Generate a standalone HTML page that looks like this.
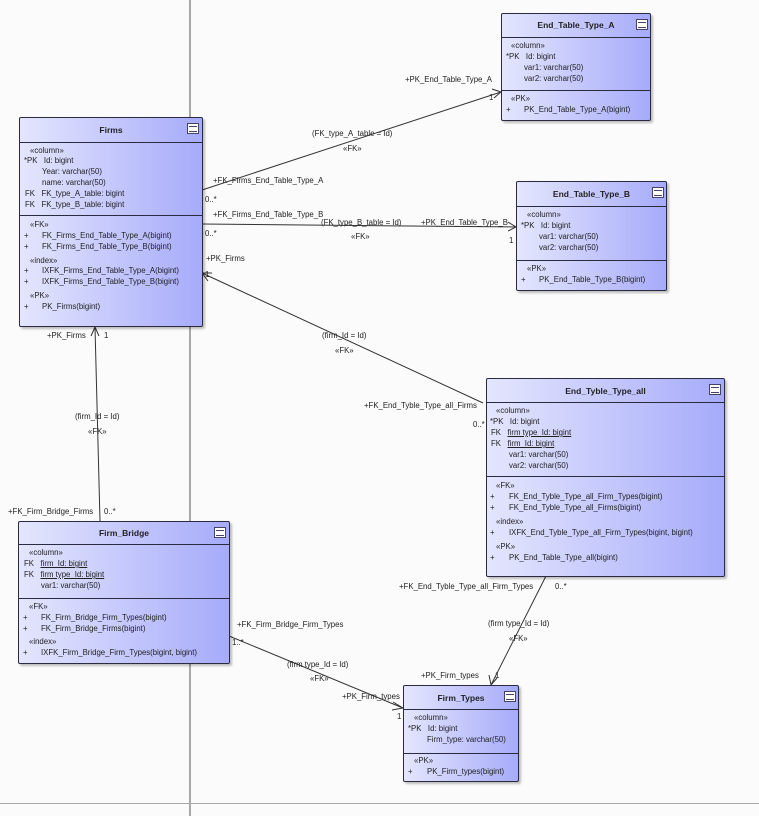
<!DOCTYPE html>
<html><head><meta charset="utf-8"><style>
body{margin:0;width:759px;height:816px;background:#fbfbfb;position:relative;overflow:hidden;font-family:"Liberation Sans",sans-serif;font-size:7.8px;color:#222}
.b{position:absolute;border:1px solid #2a2a40;background:linear-gradient(90deg,#e4e6fd,#a6abfa);box-shadow:2px 2px 2px rgba(0,0,0,.25);border-radius:2px;box-sizing:border-box}
.h{position:absolute;left:0;right:0;border-bottom:1px solid #2a2a40}
.d{position:absolute;left:0;right:0;border-top:1px solid #2a2a40}
.ti{position:absolute;left:0;right:0;text-align:center;font-weight:bold;font-size:8.5px}
.ic{position:absolute;width:10px;height:9px;border:1px solid #446;background:#fff}
.ic:after{content:"";position:absolute;left:1px;right:1px;top:2px;height:4px;border-top:1px solid #446;border-bottom:1px solid #446}
.t{position:absolute;white-space:nowrap;line-height:12px}
u{text-decoration:underline}
</style></head><body>
<div style="position:absolute;left:189px;top:0;width:2px;height:816px;background:#a8a8a8"></div>
<div style="position:absolute;left:0;top:803px;width:759px;height:1px;background:#a8a8a8"></div>
<svg width="759" height="816" style="position:absolute;left:0;top:0" fill="none" stroke="#333" stroke-width="1">
<line x1="202" y1="190" x2="501" y2="92"/><polyline points="492,89 501,92 494,98"/>
<line x1="202" y1="224" x2="516" y2="227"/><polyline points="508,222 516,227 508,231"/>
<line x1="483" y1="403" x2="202" y2="273"/><polyline points="208,281 202,273 212,273"/>
<line x1="100" y1="521" x2="95" y2="327"/><polyline points="91,336 95,327 99,336"/>
<line x1="229" y1="636" x2="403" y2="708"/><polyline points="393,702 403,708 392,710"/>
<line x1="546" y1="576" x2="491" y2="685"/><polyline points="489,675 491,685 497,678"/>
</svg>
<!-- Firms -->
<div class="b" style="left:19px;top:117px;width:184px;height:210px"><div class="h" style="top:0;height:24px"></div><div class="d" style="top:97px"></div><div class="ti" style="top:7px">Firms</div><div class="ic" style="left:167px;top:5px"></div></div>
<span class="t" style="left:30px;top:145px">«column»</span>
<span class="t" style="left:24px;top:155px">*PK&nbsp;&nbsp;&nbsp;Id: bigint</span>
<span class="t" style="left:42px;top:166px">Year: varchar(50)</span>
<span class="t" style="left:42px;top:177px">name: varchar(50)</span>
<span class="t" style="left:25px;top:188px">FK&nbsp;&nbsp;&nbsp;FK_type_A_table: bigint</span>
<span class="t" style="left:25px;top:199px">FK&nbsp;&nbsp;&nbsp;FK_type_B_table: bigint</span>
<span class="t" style="left:30px;top:219px">«FK»</span>
<span class="t" style="left:24px;top:230px">+</span><span class="t" style="left:42px;top:230px">FK_Firms_End_Table_Type_A(bigint)</span>
<span class="t" style="left:24px;top:241px">+</span><span class="t" style="left:42px;top:241px">FK_Firms_End_Table_Type_B(bigint)</span>
<span class="t" style="left:30px;top:255px">«index»</span>
<span class="t" style="left:24px;top:265px">+</span><span class="t" style="left:42px;top:265px">IXFK_Firms_End_Table_Type_A(bigint)</span>
<span class="t" style="left:24px;top:276px">+</span><span class="t" style="left:42px;top:276px">IXFK_Firms_End_Table_Type_B(bigint)</span>
<span class="t" style="left:30px;top:290px">«PK»</span>
<span class="t" style="left:24px;top:301px">+</span><span class="t" style="left:42px;top:301px">PK_Firms(bigint)</span>
<!-- End A -->
<div class="b" style="left:501px;top:13px;width:150px;height:108px"><div class="h" style="top:0;height:23px"></div><div class="d" style="top:76px"></div><div class="ti" style="top:6px">End_Table_Type_A</div><div class="ic" style="left:134px;top:5px"></div></div>
<span class="t" style="left:511px;top:40px">«column»</span>
<span class="t" style="left:506px;top:51px">*PK&nbsp;&nbsp;&nbsp;Id: bigint</span>
<span class="t" style="left:524px;top:62px">var1: varchar(50)</span>
<span class="t" style="left:524px;top:73px">var2: varchar(50)</span>
<span class="t" style="left:511px;top:93px">«PK»</span>
<span class="t" style="left:506px;top:104px">+</span><span class="t" style="left:524px;top:104px">PK_End_Table_Type_A(bigint)</span>
<!-- End B -->
<div class="b" style="left:516px;top:181px;width:151px;height:110px"><div class="h" style="top:0;height:24px"></div><div class="d" style="top:78px"></div><div class="ti" style="top:7px">End_Table_Type_B</div><div class="ic" style="left:135px;top:5px"></div></div>
<span class="t" style="left:527px;top:209px">«column»</span>
<span class="t" style="left:521px;top:220px">*PK&nbsp;&nbsp;&nbsp;Id: bigint</span>
<span class="t" style="left:539px;top:231px">var1: varchar(50)</span>
<span class="t" style="left:539px;top:242px">var2: varchar(50)</span>
<span class="t" style="left:527px;top:263px">«PK»</span>
<span class="t" style="left:521px;top:274px">+</span><span class="t" style="left:539px;top:274px">PK_End_Table_Type_B(bigint)</span>
<!-- End all -->
<div class="b" style="left:486px;top:378px;width:239px;height:199px"><div class="h" style="top:0;height:23px"></div><div class="d" style="top:97px"></div><div class="ti" style="top:7px">End_Tyble_Type_all</div><div class="ic" style="left:222px;top:5px"></div></div>
<span class="t" style="left:496px;top:405px">«column»</span>
<span class="t" style="left:490px;top:416px">*PK&nbsp;&nbsp;&nbsp;Id: bigint</span>
<span class="t" style="left:491px;top:427px">FK&nbsp;&nbsp;&nbsp;<u>firm type_Id: bigint</u></span>
<span class="t" style="left:491px;top:438px">FK&nbsp;&nbsp;&nbsp;<u>firm_Id: bigint</u></span>
<span class="t" style="left:509px;top:449px">var1: varchar(50)</span>
<span class="t" style="left:509px;top:460px">var2: varchar(50)</span>
<span class="t" style="left:496px;top:480px">«FK»</span>
<span class="t" style="left:490px;top:491px">+</span><span class="t" style="left:509px;top:491px">FK_End_Tyble_Type_all_Firm_Types(bigint)</span>
<span class="t" style="left:490px;top:502px">+</span><span class="t" style="left:509px;top:502px">FK_End_Tyble_Type_all_Firms(bigint)</span>
<span class="t" style="left:496px;top:516px">«index»</span>
<span class="t" style="left:490px;top:527px">+</span><span class="t" style="left:509px;top:527px">IXFK_End_Tyble_Type_all_Firm_Types(bigint, bigint)</span>
<span class="t" style="left:496px;top:541px">«PK»</span>
<span class="t" style="left:490px;top:552px">+</span><span class="t" style="left:509px;top:552px">PK_End_Table_Type_all(bigint)</span>
<!-- Firm_Bridge -->
<div class="b" style="left:18px;top:521px;width:212px;height:143px"><div class="h" style="top:0;height:22px"></div><div class="d" style="top:76px"></div><div class="ti" style="top:6px">Firm_Bridge</div><div class="ic" style="left:195px;top:5px"></div></div>
<span class="t" style="left:29px;top:547px">«column»</span>
<span class="t" style="left:24px;top:558px">FK&nbsp;&nbsp;&nbsp;<u>firm_Id: bigint</u></span>
<span class="t" style="left:24px;top:569px">FK&nbsp;&nbsp;&nbsp;<u>firm type_Id: bigint</u></span>
<span class="t" style="left:41px;top:580px">var1: varchar(50)</span>
<span class="t" style="left:29px;top:601px">«FK»</span>
<span class="t" style="left:23px;top:612px">+</span><span class="t" style="left:41px;top:612px">FK_Firm_Bridge_Firm_Types(bigint)</span>
<span class="t" style="left:23px;top:623px">+</span><span class="t" style="left:41px;top:623px">FK_Firm_Bridge_Firms(bigint)</span>
<span class="t" style="left:29px;top:636px">«index»</span>
<span class="t" style="left:23px;top:647px">+</span><span class="t" style="left:41px;top:647px">IXFK_Firm_Bridge_Firm_Types(bigint, bigint)</span>
<!-- Firm_Types -->
<div class="b" style="left:403px;top:685px;width:116px;height:97px"><div class="h" style="top:0;height:23px"></div><div class="d" style="top:67px"></div><div class="ti" style="top:7px">Firm_Types</div><div class="ic" style="left:100px;top:5px"></div></div>
<span class="t" style="left:414px;top:712px">«column»</span>
<span class="t" style="left:408px;top:723px">*PK&nbsp;&nbsp;&nbsp;Id: bigint</span>
<span class="t" style="left:427px;top:734px">Firm_type: varchar(50)</span>
<span class="t" style="left:414px;top:755px">«PK»</span>
<span class="t" style="left:408px;top:766px">+</span><span class="t" style="left:427px;top:766px">PK_Firm_types(bigint)</span>
<!-- connector labels -->
<span class="t" style="left:405px;top:74px">+PK_End_Table_Type_A</span>
<span class="t" style="left:489px;top:92px">1</span>
<span class="t" style="left:312px;top:128px">(FK_type_A_table = Id)</span>
<span class="t" style="left:343px;top:143px">«FK»</span>
<span class="t" style="left:213px;top:175px">+FK_Firms_End_Table_Type_A</span>
<span class="t" style="left:205px;top:194px">0..*</span>
<span class="t" style="left:213px;top:209px">+FK_Firms_End_Table_Type_B</span>
<span class="t" style="left:321px;top:217px">(FK_type_B_table = Id)</span>
<span class="t" style="left:421px;top:217px">+PK_End_Table_Type_B</span>
<span class="t" style="left:351px;top:231px">«FK»</span>
<span class="t" style="left:205px;top:228px">0..*</span>
<span class="t" style="left:509px;top:235px">1</span>
<span class="t" style="left:206px;top:253px">+PK_Firms</span>
<span class="t" style="left:205px;top:269px">1</span>
<span class="t" style="left:322px;top:330px">(firm_Id = Id)</span>
<span class="t" style="left:335px;top:345px">«FK»</span>
<span class="t" style="left:364px;top:400px">+FK_End_Tyble_Type_all_Firms</span>
<span class="t" style="left:473px;top:419px">0..*</span>
<span class="t" style="left:47px;top:330px">+PK_Firms</span>
<span class="t" style="left:104px;top:330px">1</span>
<span class="t" style="left:75px;top:411px">(firm_Id = Id)</span>
<span class="t" style="left:88px;top:426px">«FK»</span>
<span class="t" style="left:8px;top:506px">+FK_Firm_Bridge_Firms</span>
<span class="t" style="left:104px;top:506px">0..*</span>
<span class="t" style="left:237px;top:619px">+FK_Firm_Bridge_Firm_Types</span>
<span class="t" style="left:232px;top:637px">1..*</span>
<span class="t" style="left:287px;top:659px">(firm type_Id = Id)</span>
<span class="t" style="left:310px;top:673px">«FK»</span>
<span class="t" style="left:342px;top:691px">+PK_Firm_types</span>
<span class="t" style="left:397px;top:711px">1</span>
<span class="t" style="left:399px;top:581px">+FK_End_Tyble_Type_all_Firm_Types</span>
<span class="t" style="left:555px;top:581px">0..*</span>
<span class="t" style="left:488px;top:618px">(firm type_Id = Id)</span>
<span class="t" style="left:509px;top:633px">«FK»</span>
<span class="t" style="left:421px;top:670px">+PK_Firm_types</span>
<span class="t" style="left:495px;top:670px">1</span>
</body></html>
